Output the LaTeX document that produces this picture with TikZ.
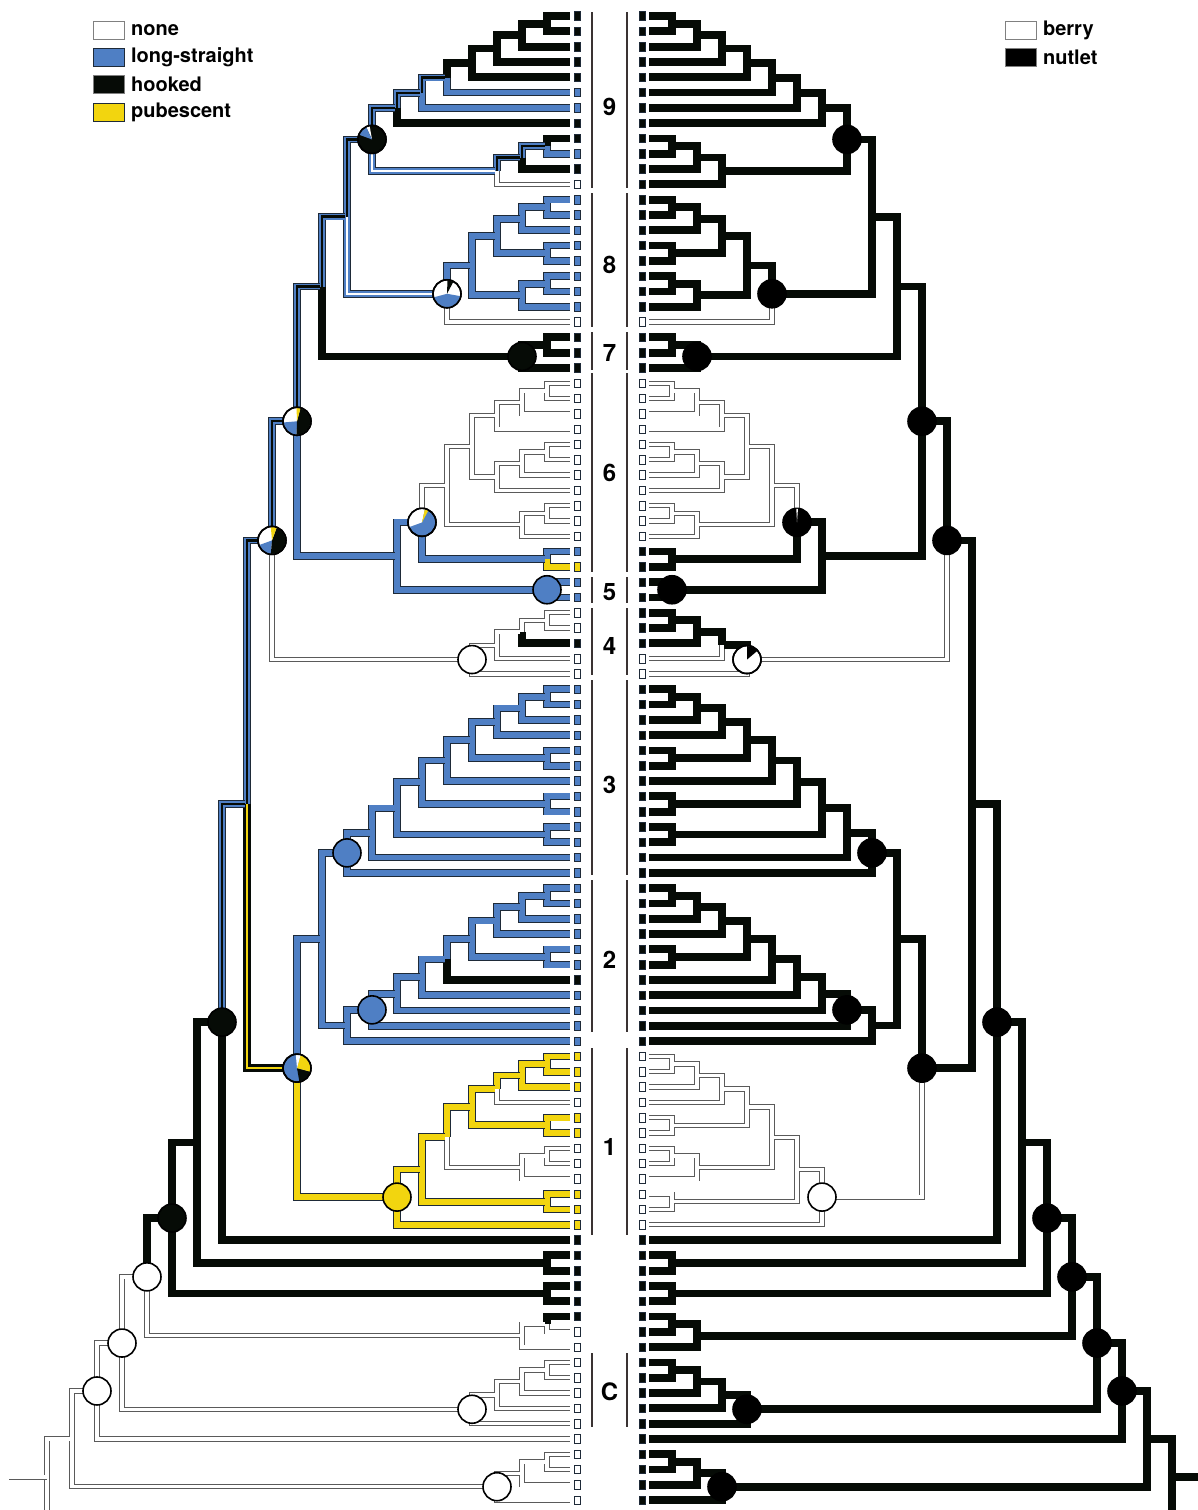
\documentclass[tikz,border=0pt]{standalone}
\usepackage{fontspec}
\setmainfont{TeX Gyre Heros}
\usepackage{tikz}
\usetikzlibrary{positioning}

\definecolor{lsblue}{HTML}{4F7FC4}
\definecolor{pubyel}{HTML}{F2D50F}
\definecolor{hookk}{HTML}{060B06}
\definecolor{outl}{HTML}{1E2A38}
\definecolor{wout}{HTML}{5A5A5A}
\definecolor{barg}{HTML}{3A3333}
\colorlet{tck}{hookk}
\colorlet{tcb}{lsblue}
\colorlet{tcy}{pubyel}
\colorlet{tcw}{white}

\tikzset{
  brk/.style={draw=hookk, line width=7.8pt, shorten >=2pt},
  brb/.style={draw=outl, line width=0.9pt, double=lsblue, double distance=5.8pt, shorten >=2pt},
  bry/.style={draw=outl, line width=0.9pt, double=pubyel, double distance=5.8pt, shorten >=2pt},
  brw/.style={draw=wout, line width=0.9pt, double=white, double distance=3.4pt, shorten >=2pt},
  brm/.style={brb, postaction={draw=hookk, line width=2.4pt, shorten >=2pt}},
  brbw/.style={brb, postaction={draw=white, line width=2.2pt, shorten >=2pt}},
  brky/.style={brk, postaction={draw=pubyel, line width=1.5pt, shorten >=2pt}},
  tipsq/.style={rectangle, draw=outl, line width=0.7pt, minimum width=6pt, minimum height=8.5pt, inner sep=0pt},
  piec/.style={circle, draw=black, line width=1.6pt, minimum size=28pt, inner sep=0pt},
  gbar/.style={draw=barg, line width=2.6pt},
  glab/.style={font=\bfseries\fontsize{24}{24}\selectfont},
  lgbox/.style={rectangle, draw=gray, line width=0.8pt, minimum width=31pt, minimum height=18pt, inner sep=0pt},
  lgtxt/.style={font=\bfseries\fontsize{20}{20}\selectfont, inner sep=0pt, anchor=west},
}

% leaf: index, left state, right state
\newcommand\leaf[3]{%
  \pgfmathsetmacro\ty{16+15.3*#1}%
  \expandafter\xdef\csname yy@#1\endcsname{\ty}%
  \expandafter\xdef\csname lv@#1\endcsname{0}%
  \expandafter\xdef\csname ls@#1\endcsname{#2}%
  \expandafter\xdef\csname rs@#1\endcsname{#3}%
  \coordinate (L#1) at (572,-\ty);
  \coordinate (R#1) at (647,-\ty);
  \node[tipsq, fill=tc#2] (qL#1) at (577.5,-\ty) {};
  \node[tipsq, fill=tc#3] (qR#1) at (642,-\ty) {};
}
\newcommand\leaves[4]{\foreach \i in {#1,...,#2}{\leaf{\i}{#3}{#4}}}
\newcommand\brn[2]{%
  \edef\brtmp{\noexpand\draw[br\csname ls@#2\endcsname]}%
  \brtmp (L#1) |- (L#2);
  \edef\brtmp{\noexpand\draw[br\csname rs@#2\endcsname]}%
  \brtmp (R#1) |- (R#2);
}
% clade: name, child, child, left state, right state
\newcommand\clade[5]{%
  \pgfmathtruncatemacro\tl{max(\csname lv@#2\endcsname,\csname lv@#3\endcsname)+1}%
  \pgfmathsetmacro\ty{(\csname yy@#2\endcsname+\csname yy@#3\endcsname)/2}%
  \expandafter\xdef\csname lv@#1\endcsname{\tl}%
  \expandafter\xdef\csname yy@#1\endcsname{\ty}%
  \expandafter\xdef\csname ls@#1\endcsname{#4}%
  \expandafter\xdef\csname rs@#1\endcsname{#5}%
  \coordinate (L#1) at (572-25*\tl,-\ty);
  \coordinate (R#1) at (647+25*\tl,-\ty);
  \brn{#1}{#2}\brn{#1}{#3}%
}
\newcommand\pie[3]{\node[piec, fill=#3] (p#1#2) at (#1#2) {};}
\newcommand\pwedge[5]{\fill[#5] (#1#2) -- ++(#3:13.4) arc[start angle=#3, end angle=#4, radius=13.4] -- cycle;}
\newcommand\prim[2]{\draw[line width=1.6pt] (p#1#2) circle[radius=14];}

\begin{document}
\begin{tikzpicture}[x=1pt,y=1pt]
\useasboundingbox (0,0) rectangle (1198,-1510);
\clip (0,0) rectangle (1198,-1510);

% tips
\leaves{0}{4}{k}{k}
\leaves{5}{6}{b}{k}
\leaves{7}{8}{k}{k}
\leaf{9}{b}{k}
\leaf{10}{k}{k}
\leaf{11}{w}{k}
\leaves{12}{19}{b}{k}
\leaf{20}{w}{w}
\leaves{21}{23}{k}{k}
\leaves{24}{34}{w}{w}
\leaf{35}{b}{k}
\leaf{36}{y}{k}
\leaves{37}{38}{b}{k}
\leaves{39}{40}{w}{k}
\leaf{41}{k}{k}
\leaves{42}{43}{w}{w}
\leaves{44}{62}{b}{k}
\leaf{63}{k}{k}
\leaves{64}{67}{b}{k}
\leaves{68}{70}{y}{w}
\leaf{71}{w}{w}
\leaves{72}{73}{y}{w}
\leaves{74}{76}{w}{w}
\leaves{77}{79}{y}{w}
\leaves{80}{85}{k}{k}
\leaves{86}{98}{w}{k}

% group 9
\clade{n9a}{0}{1}{k}{k}
\clade{n9b}{n9a}{2}{k}{k}
\clade{n9c}{n9b}{3}{k}{k}
\clade{n9d}{n9c}{4}{k}{k}
\clade{n9e}{n9d}{5}{m}{k}
\clade{n9f}{n9e}{6}{m}{k}
\clade{n9g}{n9f}{7}{m}{k}
\clade{n9h}{8}{9}{m}{k}
\clade{n9i}{n9h}{10}{m}{k}
\clade{n9j}{n9i}{11}{bw}{k}
\clade{g9}{n9g}{n9j}{m}{k}
% group 8
\clade{n8a}{12}{13}{b}{k}
\clade{n8b}{n8a}{14}{b}{k}
\clade{n8c}{15}{16}{b}{k}
\clade{n8d}{n8b}{n8c}{b}{k}
\clade{n8e}{17}{18}{b}{k}
\clade{n8f}{n8e}{19}{b}{k}
\clade{n8g}{n8d}{n8f}{b}{k}
\clade{g8}{n8g}{20}{bw}{k}
\clade{n9x}{g9}{g8}{m}{k}
% group 7
\clade{n7a}{21}{22}{k}{k}
\clade{g7}{n7a}{23}{k}{k}
\clade{n10a}{n9x}{g7}{m}{k}
% group 6
\clade{n6a}{24}{25}{w}{w}
\clade{n6b}{n6a}{26}{w}{w}
\clade{n6c}{n6b}{27}{w}{w}
\clade{n6d}{28}{29}{w}{w}
\clade{n6e}{n6d}{30}{w}{w}
\clade{n6f}{n6e}{31}{w}{w}
\clade{n6g}{n6c}{n6f}{w}{w}
\clade{n6h}{32}{33}{w}{w}
\clade{n6i}{n6h}{34}{w}{w}
\clade{n6j}{n6g}{n6i}{w}{w}
\clade{n6k}{35}{36}{b}{k}
\clade{g6}{n6j}{n6k}{b}{k}
% group 5
\clade{g5}{37}{38}{b}{k}
\clade{n7b}{g6}{g5}{b}{k}
\clade{n11a}{n10a}{n7b}{m}{k}
% group 4
\clade{n4a}{39}{40}{w}{k}
\clade{n4b}{n4a}{41}{w}{k}
\clade{n4c}{n4b}{42}{w}{k}
\clade{g4}{n4c}{43}{w}{w}
\clade{n12a}{n11a}{g4}{m}{k}
% group 3
\clade{n3a}{44}{45}{b}{k}
\clade{n3b}{n3a}{46}{b}{k}
\clade{n3c}{n3b}{47}{b}{k}
\clade{n3d}{48}{49}{b}{k}
\clade{n3e}{n3c}{n3d}{b}{k}
\clade{n3f}{n3e}{50}{b}{k}
\clade{n3g}{51}{52}{b}{k}
\clade{n3h}{n3f}{n3g}{b}{k}
\clade{n3i}{53}{54}{b}{k}
\clade{n3j}{n3h}{n3i}{b}{k}
\clade{n3k}{n3j}{55}{b}{k}
\clade{g3}{n3k}{56}{b}{k}
% group 2
\clade{n2a}{57}{58}{b}{k}
\clade{n2b}{n2a}{59}{b}{k}
\clade{n2c}{n2b}{60}{b}{k}
\clade{n2d}{61}{62}{b}{k}
\clade{n2e}{n2c}{n2d}{b}{k}
\clade{n2f}{n2e}{63}{b}{k}
\clade{n2g}{n2f}{64}{b}{k}
\clade{n2h}{n2g}{65}{b}{k}
\clade{n2i}{n2h}{66}{b}{k}
\clade{g2}{n2i}{67}{b}{k}
\clade{n10b}{g3}{g2}{b}{k}
% group 1
\clade{n1a}{68}{69}{y}{w}
\clade{n1b}{n1a}{70}{y}{w}
\clade{n1c}{n1b}{71}{y}{w}
\clade{n1d}{72}{73}{y}{w}
\clade{n1e}{n1c}{n1d}{y}{w}
\clade{n1f}{74}{75}{w}{w}
\clade{n1g}{n1f}{76}{w}{w}
\clade{n1h}{n1e}{n1g}{y}{w}
\clade{n1i}{77}{78}{y}{w}
\clade{n1j}{n1h}{n1i}{y}{w}
\clade{g1}{n1j}{79}{y}{w}
\clade{n11b}{n10b}{g1}{ky}{k}
% backbone
\clade{n13}{n12a}{n11b}{m}{k}
\clade{n14}{n13}{80}{k}{k}
\clade{n1x}{81}{82}{k}{k}
\clade{n15}{n14}{n1x}{k}{k}
\clade{n1y}{83}{84}{k}{k}
\clade{n16}{n15}{n1y}{k}{k}
\clade{n2x}{85}{86}{w}{k}
\clade{n2y}{n2x}{87}{w}{k}
\clade{n17}{n16}{n2y}{w}{k}
\clade{nca}{88}{89}{w}{k}
\clade{ncb}{nca}{90}{w}{k}
\clade{ncc}{ncb}{91}{w}{k}
\clade{gc}{ncc}{92}{w}{k}
\clade{n18}{n17}{gc}{w}{k}
\clade{n19}{n18}{93}{w}{k}
\clade{nda}{94}{95}{w}{k}
\clade{ndb}{nda}{96}{w}{k}
\clade{gd}{ndb}{97}{w}{k}
\clade{n20}{n19}{gd}{w}{k}
\clade{n21}{n20}{98}{w}{k}
\path (Ln21) ++(-40,0) coordinate (Lroot);
\path (Rn21) ++(30,0) coordinate (Rroot);
\draw[brw] (Ln21) -- (Lroot);
\draw[brk] (Rn21) -- (Rroot);

% pies, left
\pie{L}{g9}{hookk}\pwedge{L}{g9}{100}{115}{white}\pwedge{L}{g9}{115}{160}{lsblue}\prim{L}{g9}
\pie{L}{g8}{white}\pwedge{L}{g8}{195}{350}{lsblue}\pwedge{L}{g8}{62}{88}{hookk}\prim{L}{g8}
\pie{L}{g7}{hookk}
\pie{L}{n11a}{white}\pwedge{L}{n11a}{185}{268}{lsblue}\pwedge{L}{n11a}{-92}{75}{hookk}\pwedge{L}{n11a}{75}{92}{pubyel}\prim{L}{n11a}
\pie{L}{n12a}{white}\pwedge{L}{n12a}{200}{265}{lsblue}\pwedge{L}{n12a}{-95}{70}{hookk}\pwedge{L}{n12a}{70}{95}{pubyel}\prim{L}{n12a}
\pie{L}{g6}{lsblue}\pwedge{L}{g6}{78}{200}{white}\pwedge{L}{g6}{62}{78}{pubyel}\prim{L}{g6}
\pie{L}{g5}{lsblue}
\pie{L}{g4}{white}
\pie{L}{g3}{lsblue}
\pie{L}{n2i}{lsblue}
\pie{L}{n14}{hookk}
\pie{L}{n11b}{lsblue}\pwedge{L}{n11b}{280}{345}{hookk}\pwedge{L}{n11b}{-15}{75}{pubyel}\pwedge{L}{n11b}{75}{95}{white}\prim{L}{n11b}
\pie{L}{g1}{pubyel}
\pie{L}{n16}{hookk}
\pie{L}{n17}{white}
\pie{L}{n18}{white}
\pie{L}{n19}{white}
\pie{L}{gc}{white}
\pie{L}{gd}{white}
% pies, right
\foreach \nd in {g9,g8,g7,n11a,n12a,g6,g5,g3,n2i,n14,n11b,n16,n17,n18,n19,gc,gd}
  {\pie{R}{\nd}{black}}
\pwedge{R}{g6}{86}{93}{white}
\pie{R}{g4}{white}\pwedge{R}{g4}{40}{90}{black}\prim{R}{g4}
\pie{R}{g1}{white}

% group bars and labels
\foreach \t/\b in {12/188,193/327,332/370,373/572,577/603,608/675,680/875,880/1032,1048/1235,1353/1427}
  {\draw[gbar] (592,-\t) -- (592,-\b);
   \draw[gbar] (627,-\t) -- (627,-\b);}
\node[glab] (lab9) at (609.5,-107) {9};
\node[glab] (lab8) at (609.5,-265) {8};
\node[glab] (lab7) at (609.5,-353) {7};
\node[glab] (lab6) at (609.5,-473) {6};
\node[glab] (lab5) at (609.5,-592) {5};
\node[glab] (lab4) at (609.5,-646) {4};
\node[glab] (lab3) at (609.5,-785) {3};
\node[glab] (lab2) at (609.5,-960) {2};
\node[glab] (lab1) at (609.5,-1147) {1};
\node[glab] (labC) at (609.5,-1392) {C};

% legends
\node[lgbox, fill=white] (kNone) at (109,-30) {};
\node[lgbox, fill=lsblue, draw=outl, below=8.5pt of kNone] (kLong) {};
\node[lgbox, fill=hookk, below=8.5pt of kLong] (kHook) {};
\node[lgbox, fill=pubyel, draw=outl, below=8.5pt of kHook] (kPub) {};
\node[lgtxt, right=6pt of kNone] (tNone) {none};
\node[lgtxt, right=6pt of kLong] (tLong) {long-straight};
\node[lgtxt, right=6pt of kHook] (tHook) {hooked};
\node[lgtxt, right=6pt of kPub] (tPub) {pubescent};
\node[lgbox, fill=white] (kBerry) at (1021,-30) {};
\node[lgbox, fill=black, below=8.5pt of kBerry] (kNut) {};
\node[lgtxt, right=6pt of kBerry] (tBerry) {berry};
\node[lgtxt, right=6pt of kNut] (tNut) {nutlet};
\end{tikzpicture}
\end{document}
